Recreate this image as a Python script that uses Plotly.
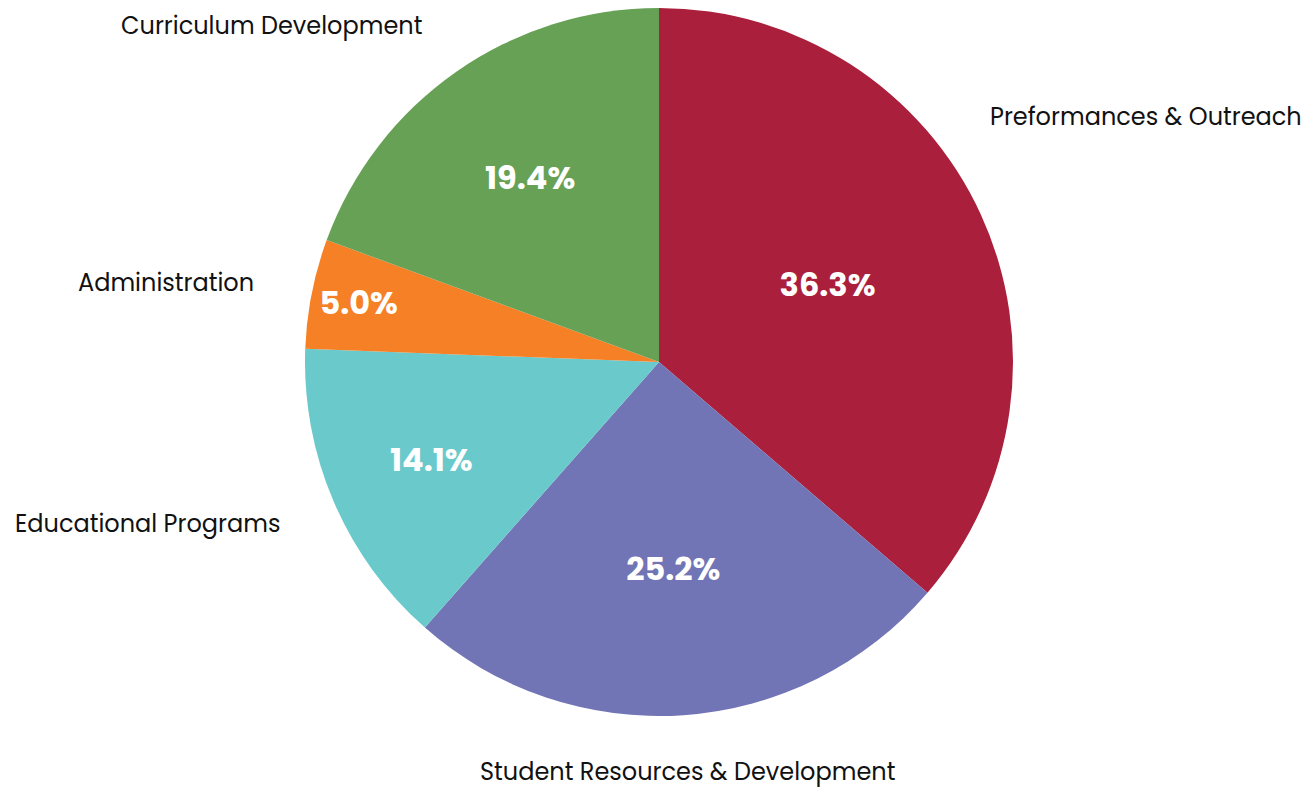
import math
import plotly.graph_objects as go

categories = ["Preformances & Outreach", "Student Resources & Development",
              "Educational Programs", "Administration", "Curriculum Development"]
values = [36.3, 25.2, 14.1, 5.0, 19.4]
colors = ["#AA1F3C", "#7174B5", "#6AC9CB", "#F58025", "#67A155"]

W, H = 1298, 784
M = dict(l=4, r=0, t=0, b=76)
plot_w = W - M["l"] - M["r"]
plot_h = H - M["t"] - M["b"]
R = min(plot_w, plot_h) / 2
cx = M["l"] + plot_w / 2
cy = M["t"] + plot_h / 2

FONT = "Poppins, Open Sans, sans-serif"
LABEL_SIZE = 24

fig = go.Figure(go.Pie(
    labels=categories, values=values, sort=False, direction="clockwise", rotation=0,
    marker=dict(colors=colors, line=dict(width=0)),
    textinfo="percent", texttemplate="%{percent:.1%}", textposition="inside",
    insidetextorientation="horizontal",
    insidetextfont=dict(family=FONT, size=32, color="white", weight=700),
    showlegend=False, hoverinfo="label+percent",
))

# outside category labels, positioned from each slice's mid-angle;
# a label that would not fit the page is slid along its circle until it does
total = sum(values)
cum = 0.0
label_r = 1.16 * R
left_lim, right_lim = 2, W - 9
for cat, v in zip(categories, values):
    mid = (cum + v / 2) / total * 2 * math.pi
    cum += v
    est_w = len(cat) * 0.56 * LABEL_SIZE
    s = math.sin(mid)
    ang = mid
    if abs(s) < 0.2:
        xa = "center"
    elif s > 0:
        xa = "left"
        max_s = (right_lim - est_w - cx) / label_r
        if s > max_s:
            ang = math.asin(max_s) if math.cos(mid) >= 0 else math.pi - math.asin(max_s)
    else:
        xa = "right"
        max_s = (cx - left_lim - est_w) / label_r
        if -s > max_s:
            ang = -math.asin(max_s) if math.cos(mid) >= 0 else math.pi + math.asin(max_s)
    px = cx + label_r * math.sin(ang)
    py = cy - label_r * math.cos(ang)
    fig.add_annotation(
        x=(px - M["l"]) / plot_w, y=1 - (py - M["t"]) / plot_h,
        xref="paper", yref="paper", xanchor=xa, yanchor="middle",
        text=cat, showarrow=False,
        font=dict(family=FONT, size=LABEL_SIZE, color="#111111"),
    )

fig.update_layout(
    width=W, height=H, margin=M,
    paper_bgcolor="white", plot_bgcolor="white",
)
fig.write_html("out.html")
